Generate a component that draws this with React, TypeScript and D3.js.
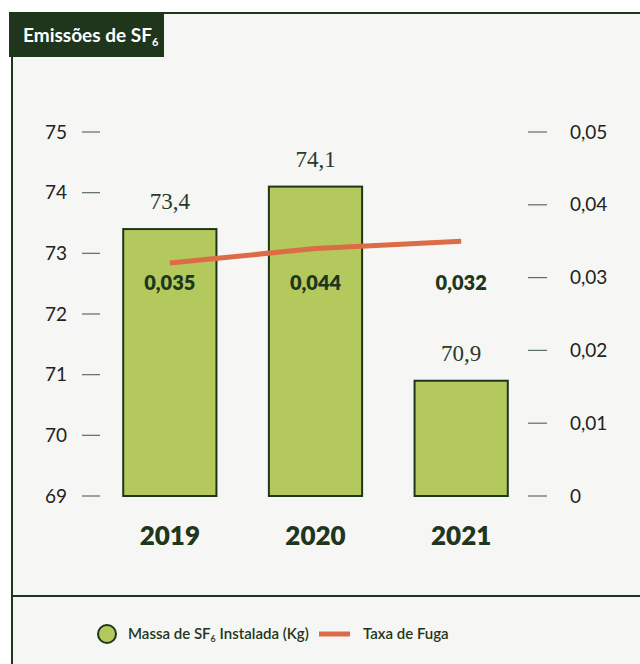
import React from "react";
import * as d3 from "d3";

const years = ["2019", "2020", "2021"];
const massValues = [73.4, 74.1, 70.9];
const massLabels = ["73,4", "74,1", "70,9"];
const leakValues = [0.032, 0.034, 0.035];
const leakLabels = ["0,035", "0,044", "0,032"];
const leftTicks = [69, 70, 71, 72, 73, 74, 75];
const rightTicks = [0, 0.01, 0.02, 0.03, 0.04, 0.05];

const W = 640;
const H = 664;
const DARK = "#1f361d";
const BAR = "#b3c95e";
const ORANGE = "#dc6c45";
const BG = "#f6f6f4";
const SANS = "Lato, 'Open Sans', sans-serif";

export default function App() {
  const x = d3.scaleBand<string>().domain(years).range([97, 534]).paddingInner(0.36).paddingOuter(0.18);
  const yL = d3.scaleLinear().domain([69, 75]).range([496, 132]);
  const yR = d3.scaleLinear().domain([0, 0.05]).range([496, 132]);
  const cx = (d: string) => (x(d) as number) + x.bandwidth() / 2;
  const line = d3
    .line<number>()
    .x((_, i) => cx(years[i]))
    .y((d) => yR(d));
  const fmtR = (v: number) => (v === 0 ? "0" : d3.format(".2f")(v).replace(".", ","));

  return (
    <svg width={W} height={H} style={{ position: "absolute", left: 0, top: 0, background: "#fff" }}>
      <rect x={12} y={12} width={W - 12} height={H - 12} fill={BG} />
      <line x1={12} x2={W} y1={13} y2={13} stroke={DARK} strokeWidth={2} />
      <line x1={12} x2={12} y1={12} y2={H} stroke={DARK} strokeWidth={2} />
      <line x1={12} x2={W} y1={596} y2={596} stroke={DARK} strokeWidth={2} />
      <rect x={9} y={12} width={155} height={45} fill={DARK} />
      <text x={23} y={42} fill="#fff" fontFamily={SANS} fontWeight={700} fontSize={19}>
        Emissões de SF<tspan fontSize={11} dy={4}>6</tspan>
      </text>

      {leftTicks.map((t) => (
        <g key={"l" + t}>
          <line x1={82} x2={100} y1={yL(t)} y2={yL(t)} stroke="#5e6e5e" strokeWidth={1.2} />
          <text x={67} y={yL(t)} dy="0.35em" textAnchor="end" fontFamily={SANS} fontSize={19} fill="#222">
            {t}
          </text>
        </g>
      ))}
      {rightTicks.map((t) => (
        <g key={"r" + t}>
          <line x1={528} x2={547} y1={yR(t)} y2={yR(t)} stroke="#5e6e5e" strokeWidth={1.2} />
          <text x={570} y={yR(t)} dy="0.35em" fontFamily={SANS} fontSize={19} fill="#222">
            {fmtR(t)}
          </text>
        </g>
      ))}

      {years.map((yr, i) => (
        <g key={yr}>
          <rect
            x={x(yr)}
            y={yL(massValues[i])}
            width={x.bandwidth()}
            height={yL(69) - yL(massValues[i])}
            fill={BAR}
            stroke={DARK}
            strokeWidth={2}
          />
          <text
            x={cx(yr)}
            y={yL(massValues[i]) - 28}
            dy="0.35em"
            textAnchor="middle"
            fontFamily="'Liberation Serif', 'DejaVu Serif', serif"
            fontSize={23}
            fill="#2a3a2a"
          >
            {massLabels[i]}
          </text>
          <text x={cx(yr)} y={536} dy="0.35em" textAnchor="middle" fontFamily={SANS} fontWeight={800} fontSize={26} fill={DARK}>
            {yr}
          </text>
        </g>
      ))}

      <path d={line(leakValues) || ""} fill="none" stroke={ORANGE} strokeWidth={5} />

      {years.map((yr, i) => (
        <text key={"ll" + yr} x={cx(yr)} y={283} dy="0.35em" textAnchor="middle" fontFamily={SANS} fontWeight={800} fontSize={20} fill={DARK}>
          {leakLabels[i]}
        </text>
      ))}

      <circle cx={107} cy={634} r={9} fill={BAR} stroke={DARK} strokeWidth={2} />
      <text x={128} y={634} dy="0.35em" fontFamily={SANS} fontWeight={600} fontSize={15} fill={DARK}>
        Massa de SF<tspan fontSize={9} dy={3}>6</tspan>
        <tspan dy={-3}> Instalada (Kg)</tspan>
      </text>
      <line x1={319} x2={350} y1={634} y2={634} stroke={ORANGE} strokeWidth={5} />
      <text x={363} y={634} dy="0.35em" fontFamily={SANS} fontWeight={600} fontSize={15} fill={DARK}>
        Taxa de Fuga
      </text>
    </svg>
  );
}
